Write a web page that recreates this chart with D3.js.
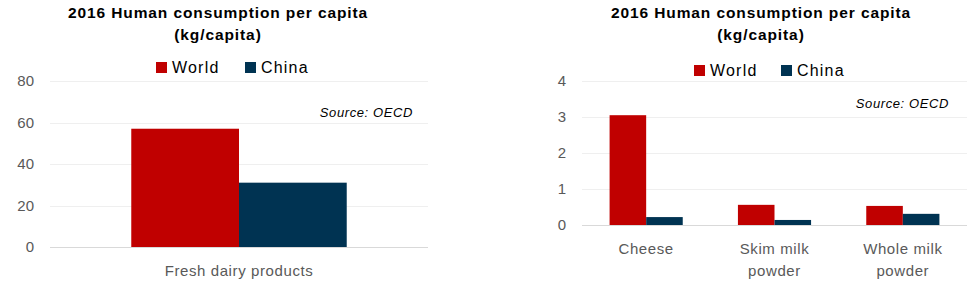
<!DOCTYPE html>
<html>
<head>
<meta charset="utf-8">
<script src="https://cdn.jsdelivr.net/npm/d3@7"></script>
<style>
  body { margin: 0; background: #fff; }
  svg { font-family: "Liberation Sans", Arial, sans-serif; }
  .tick text { fill: #595959; font-size: 15px; }
</style>
</head>
<body>
<script>
// data
var seriesNames = ["World", "China"];
var colors = ["#C00000", "#003352"];

var leftCategories = ["Fresh dairy products"];
var leftWorld = [57];
var leftChina = [31];
var leftTicks = [0, 20, 40, 60, 80];

var rightCategories = [["Cheese"], ["Skim milk", "powder"], ["Whole milk", "powder"]];
var rightWorld = [3.05, 0.56, 0.53];
var rightChina = [0.22, 0.14, 0.31];
var rightTicks = [0, 1, 2, 3, 4];

var titleLines = ["2016 Human consumption per capita", "(kg/capita)"];
var sourceText = "Source: OECD";

var svg = d3.select("body").append("svg")
    .attr("width", 980)
    .attr("height", 286);

function drawChart(opt) {
  var g = svg.append("g");
  var x = d3.scaleBand()
      .domain(opt.cats.map((d, i) => i))
      .range([opt.x0, opt.x1])
      .paddingInner(0.43)
      .paddingOuter(0.215);
  var x1 = d3.scaleBand().domain([0, 1]).range([0, x.bandwidth()]);
  var y = d3.scaleLinear().domain([0, opt.max]).range([opt.y1, opt.y0]);

  // gridlines
  g.selectAll(".grid")
    .data(opt.ticks.slice(1))
    .enter().append("line")
    .attr("x1", opt.x0).attr("x2", opt.x1)
    .attr("y1", d => Math.round(y(d)) + 0.5).attr("y2", d => Math.round(y(d)) + 0.5)
    .attr("stroke", "#EFEFEF");

  var yAxis = d3.axisLeft(y).tickValues(opt.ticks).tickFormat(d3.format("d"))
      .tickSize(0).tickPadding(0);
  g.append("g")
    .attr("transform", "translate(" + opt.tickX + ",0)")
    .call(yAxis)
    .call(a => a.select(".domain").remove())
    .selectAll("text").attr("font-size", 15);

  var rows = opt.cats.map((c, i) => [opt.world[i], opt.china[i]]);
  var grp = g.selectAll(".grp").data(rows).enter().append("g")
    .attr("transform", (d, i) => "translate(" + x(i) + ",0)");
  grp.selectAll("rect").data(d => d).enter().append("rect")
    .attr("x", (d, j) => x1(j))
    .attr("width", x1.bandwidth())
    .attr("y", d => y(d))
    .attr("height", d => y(0) - y(d))
    .attr("fill", (d, j) => colors[j]);

  // baseline
  g.append("line")
    .attr("x1", opt.x0).attr("x2", opt.x1)
    .attr("y1", y(0) + 0.5).attr("y2", y(0) + 0.5)
    .attr("stroke", "#D9D9D9");

  // category labels
  var lab = g.selectAll(".cat").data(opt.cats).enter().append("text")
    .attr("text-anchor", "middle")
    .attr("fill", "#595959")
    .attr("font-size", 15)
    .attr("letter-spacing", 0.6)
    .attr("x", (d, i) => x(i) + x.bandwidth() / 2)
    .attr("y", opt.catY);
  lab.selectAll("tspan").data(d => Array.isArray(d) ? d : [d]).enter().append("tspan")
    .attr("x", function () { return this.parentNode.getAttribute("x"); })
    .attr("dy", (d, k) => k === 0 ? 0 : 22)
    .text(d => d);

  // title
  g.selectAll(".title").data(titleLines).enter().append("text")
    .attr("x", opt.titleX)
    .attr("y", (d, i) => opt.titleY + i * 22)
    .attr("text-anchor", "middle")
    .attr("font-weight", "bold")
    .attr("font-size", 15.5)
    .attr("letter-spacing", 0.9)
    .text(d => d);

  // legend
  var leg = g.selectAll(".leg").data(seriesNames).enter().append("g")
    .attr("transform", (d, i) => "translate(" + opt.legX[i] + "," + opt.legY + ")");
  leg.append("rect").attr("x", 0).attr("y", -11).attr("width", 11).attr("height", 11)
    .attr("fill", (d, i) => colors[i]);
  leg.append("text").attr("x", 16).attr("y", 0)
    .attr("font-size", 16)
    .attr("letter-spacing", 1.2)
    .attr("fill", "#000")
    .text(d => d);

  g.append("text")
    .attr("x", opt.srcX).attr("y", opt.srcY)
    .attr("text-anchor", "end")
    .attr("font-style", "italic")
    .attr("font-size", 13)
    .attr("letter-spacing", 0.6)
    .text(sourceText);
}

drawChart({
  cats: leftCategories, world: leftWorld, china: leftChina, ticks: leftTicks, max: 80,
  x0: 50, x1: 428, y0: 81, y1: 247, tickX: 34, catY: 276,
  titleX: 218, titleY: 18, legX: [156, 245], legY: 73, srcX: 413, srcY: 117
});

drawChart({
  cats: rightCategories, world: rightWorld, china: rightChina, ticks: rightTicks, max: 4,
  x0: 582, x1: 967, y0: 81, y1: 225, tickX: 566, catY: 254,
  titleX: 761, titleY: 18, legX: [694, 781], legY: 76, srcX: 949, srcY: 108
});
</script>
</body>
</html>
